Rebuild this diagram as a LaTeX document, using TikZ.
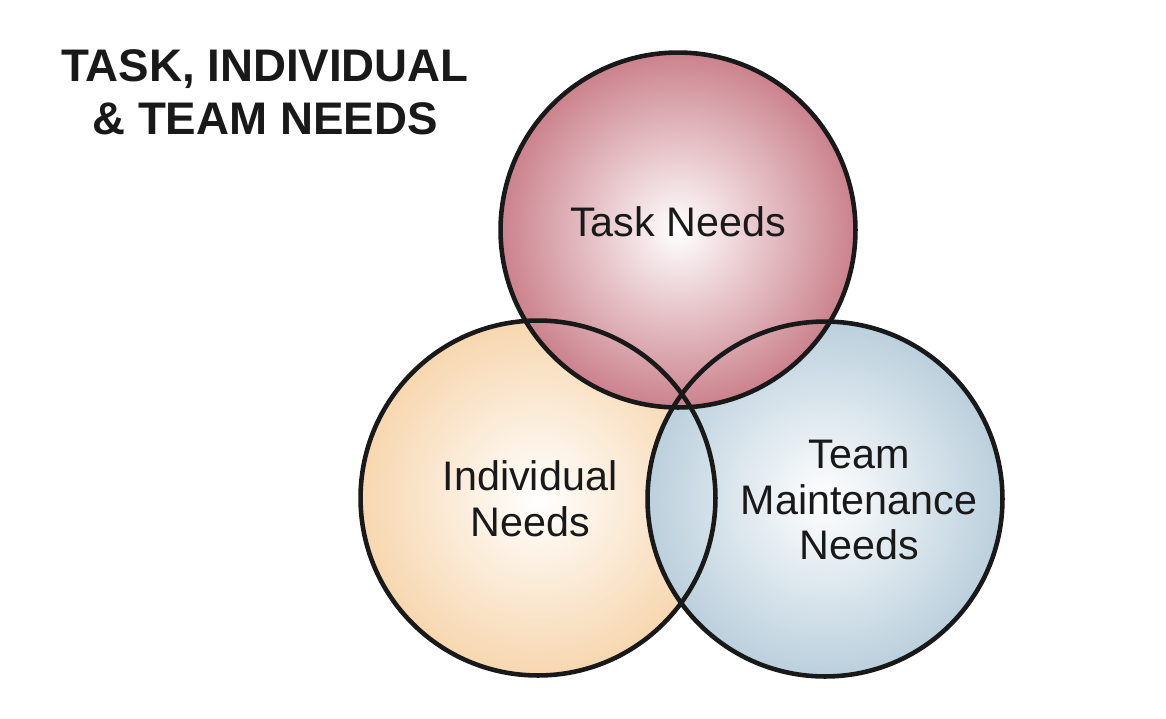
\documentclass[tikz,border=0pt]{standalone}
\usepackage{fontspec}
\setmainfont{Liberation Sans}
\usetikzlibrary{positioning}

\definecolor{taskred}{RGB}{184,84,99}
\definecolor{indivpeach}{RGB}{244,200,146}
\definecolor{teamblue}{RGB}{162,190,208}
\pgfdeclareradialshading{taskshade}{\pgfpoint{0bp}{0bp}}{color(0bp)=(white); color(4bp)=(white!88!taskred); color(28bp)=(white!18!taskred); color(50bp)=(taskred)}
\pgfdeclareradialshading{indivshade}{\pgfpoint{0bp}{0bp}}{color(0bp)=(white); color(4bp)=(white!88!indivpeach); color(28bp)=(white!18!indivpeach); color(50bp)=(indivpeach)}
\pgfdeclareradialshading{teamshade}{\pgfpoint{0bp}{0bp}}{color(0bp)=(white); color(4bp)=(white!88!teamblue); color(28bp)=(white!18!teamblue); color(50bp)=(teamblue)}

\begin{document}
\begin{tikzpicture}[
  x=0.02cm, y=-0.02cm,
  need/.style={circle,minimum size=7.1cm,inner sep=0pt},
  rim/.style={draw=black!90,line width=2.6pt},
  lbl/.style={align=center,font=\fontsize{23.5}{26}\selectfont,text=black!90}
]
  \useasboundingbox (0,0) rectangle (1166,718);

  % filled circles, back to front
  \node[need,shading=indivshade] (indiv) at (538,498) {};
  \node[need,shading=teamshade] (team) at (825,499) {};
  \node[need,shading=taskshade] (task) at (678,230) {};

  % outlines on top of every fill
  \foreach \c in {indiv,team,task}
    \draw[rim] (\c.center) circle[radius=3.55cm];

  \node[lbl] (tasklbl) at (678,222) {Task Needs};
  \node[lbl] (indivlbl) at (530,499) {Individual\\Needs};
  \node[lbl] (teamlbl) at (859,500) {Team\\Maintenance\\Needs};

  \node[align=center,font=\bfseries\fontsize{26}{30}\selectfont,text=black!90] (title) at (265,92) {TASK, INDIVIDUAL\\\& TEAM NEEDS};
\end{tikzpicture}
\end{document}
